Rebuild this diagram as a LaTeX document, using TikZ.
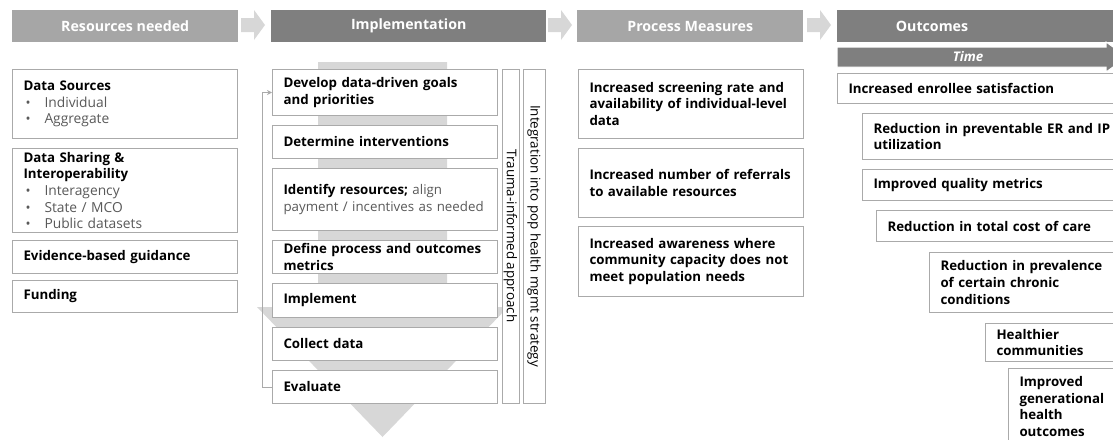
\documentclass[tikz,border=0pt]{standalone}
\usepackage{fontspec}
\setmainfont{Open Sans}
\usetikzlibrary{arrows.meta}
\definecolor{hdrlight}{RGB}{166,166,166}
\definecolor{hdrdark}{RGB}{127,127,127}
\definecolor{chevgray}{RGB}{215,215,215}
\definecolor{linegray}{RGB}{170,170,170}
\definecolor{txtgray}{RGB}{89,89,89}
\newcommand{\itm}[1]{\hspace*{2pt}\makebox[19pt][l]{\mdseries\color{txtgray}•}{\fontsize{13.8}{16.7}\selectfont\mdseries\color{txtgray}#1}}

\begin{document}
\begin{tikzpicture}[x=1pt, y=-1pt,
    hdr/.style={anchor=north west, minimum height=32, inner sep=0pt, text=white,
        font=\fontsize{14.2}{16}\selectfont\bfseries},
    box/.style={draw=linegray, line width=1pt, fill=white, anchor=north west,
        inner xsep=11pt, inner ysep=0pt, align=left,
        font=\fontsize{13.3}{16.7}\selectfont\bfseries},
    bar/.style={draw=linegray, line width=1pt, fill=white, inner sep=0pt,
        font=\fontsize{13.4}{15}\selectfont}]
    \useasboundingbox (0,0) rectangle (1113,439);
    \clip (0,0) rectangle (1113,439);

    % Header row
    \node[hdr, fill=hdrlight, minimum width=226] (res) at (12,10) {Resources needed};
    \node[hdr, fill=hdrdark, minimum width=275] (imp) at (271,10) {Implementation};
    \node[hdr, fill=hdrlight, minimum width=226] (prc) at (577,10) {Process Measures};
    \node[hdr, fill=hdrdark, minimum width=290] (out) at (837,10) {};
    \node[hdr, anchor=center] (outlbl) at (932,26) {Outcomes};
    \foreach \x in {241,548,807}
        \fill[chevgray] (\x,18) -- ({\x+13},18) -- ({\x+13},10) -- ({\x+24},25)
            -- ({\x+13},40) -- ({\x+13},32) -- (\x,32) -- cycle;

    % Time arrow
    \draw[white, fill=hdrdark, line width=1pt] (837,47) -- (1106,47) -- (1106,42)
        -- (1127,57) -- (1106,72) -- (1106,67) -- (837,67) -- cycle;
    \node[text=white, font=\fontsize{13.3}{15}\selectfont\bfseries\itshape] (time) at (968,57) {Time};

    % Resources needed
    \node[box, minimum width=225, text width=203, minimum height=69] (dsrc) at (12,69)
        {Data Sources\\\itm{Individual}\\\itm{Aggregate}};
    \node[box, minimum width=225, text width=203, minimum height=84] (dshr) at (12,148)
        {Data Sharing \&\\Interoperability\\\itm{Interagency}\\\itm{State / MCO}\\\itm{Public datasets}};
    \node[box, minimum width=225, text width=203, minimum height=33] (evid) at (12,240)
        {Evidence-based guidance};
    \node[box, minimum width=225, text width=203, minimum height=32] (fund) at (12,280)
        {Funding};

    % Implementation
    \fill[chevgray] (318,62) -- (447,62) -- (447,307) -- (508,307) -- (382.5,437)
        -- (257,307) -- (318,307) -- cycle;
    \node[box, minimum width=225, text width=203, minimum height=46] (dev) at (272,69)
        {Develop data-driven goals\\and priorities};
    \node[box, minimum width=225, text width=203, minimum height=33] (det) at (272,125)
        {Determine interventions};
    \node[box, minimum width=225, text width=203, minimum height=62] (idr) at (272,168)
        {Identify resources; {\fontsize{13.3}{17}\selectfont\mdseries\color{txtgray}align}\\\mbox{\fontsize{13.3}{17}\selectfont\mdseries\color{txtgray}payment / incentives as needed}};
    \node[box, minimum width=225, text width=203, minimum height=33] (dfn) at (272,240)
        {Define process and outcomes\\metrics};
    \node[box, minimum width=225, text width=203, minimum height=34] (imr) at (272,283)
        {Implement};
    \node[box, minimum width=225, text width=203, minimum height=33] (col) at (272,327)
        {Collect data};
    \node[box, minimum width=225, text width=203, minimum height=33] (evl) at (272,370)
        {Evaluate};
    \draw[linegray, line width=1pt, -{Stealth[length=5pt,width=5pt]}]
        (evl.west) -- ++(-10,0) |- (dev.west);
    \node[bar, rotate=-90, minimum width=334, minimum height=17] (trm) at (510.5,236)
        {Trauma-informed approach};
    \node[bar, rotate=-90, minimum width=334, minimum height=22] (intg) at (534,236)
        {Integration into pop health mgmt strategy};

    % Process Measures
    \node[box, minimum width=225, text width=203, minimum height=69] (scr) at (578,69)
        {Increased screening rate and\\availability of individual-level\\data};
    \node[box, minimum width=225, text width=203, minimum height=69] (ref) at (578,148)
        {Increased number of referrals\\to available resources};
    \node[box, minimum width=225, text width=203, minimum height=70] (awr) at (578,226)
        {Increased awareness where\\community capacity does not\\meet population needs};

    % Outcomes
    \node[box, minimum width=290, text width=268, minimum height=30] (sat) at (837,73)
        {Increased enrollee satisfaction};
    \node[box, minimum width=265, text width=243, minimum height=46] (erip) at (862,113)
        {Reduction in preventable ER and IP\\utilization};
    \node[box, minimum width=265, text width=243, minimum height=31] (qual) at (862,169)
        {Improved quality metrics};
    \node[box, minimum width=251, text width=229, minimum height=31] (cost) at (876,210)
        {Reduction in total cost of care};
    \node[box, minimum width=198, text width=176, minimum height=60] (prev) at (929,252)
        {Reduction in prevalence\\of certain chronic\\conditions};
    \node[box, minimum width=142, text width=120, minimum height=38] (hlth) at (985,323)
        {Healthier\\communities};
    \node[box, minimum width=119, text width=97, minimum height=76] (gen) at (1008,368)
        {Improved\\generational\\health\\outcomes};
\end{tikzpicture}
\end{document}
